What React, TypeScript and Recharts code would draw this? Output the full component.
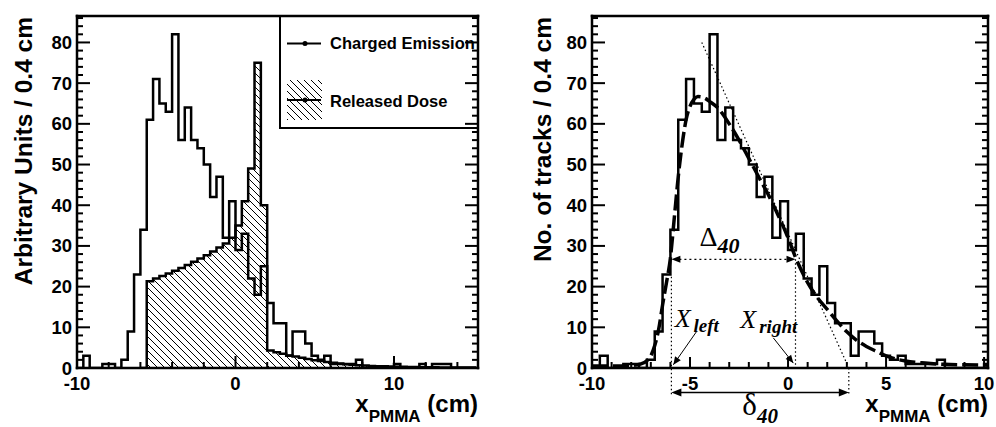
import React from 'react';
import { ComposedChart, Line, Area, XAxis, YAxis, ReferenceLine } from 'recharts';

const BIN_LOW = -10;
const BIN_WIDTH = 0.4;

// entries per 0.4 cm bin, first bin starts at x = -10
const chargedCounts = [
  0, 3, 0, 0, 1, 1, 0, 2, 9, 23, // -10.0 .. -6.4
  34, 61, 71, 65, 63, 82, 56, 64, 56, 54, // -6.0 .. -2.4
  50, 42, 47, 32, 41, 29, 33, 22, 18, 25, // -2.0 .. 1.6
  16, 11, 11, 3, 9, 9, 6, 3, 2, 3, // 2.0 .. 5.6
  1, 1, 1, 1, 2, 0, 0, 0, 0, 0, // 6.0 .. 9.6
  1, 0, 0, 0, 1, 0, 1, 1, 1, 0, // 10.0 .. 13.6
  0, 0, 0, // 14.0 .. 14.8
];

// released dose, first bin starts at x = -5.6
const DOSE_LOW = -5.6;
const doseValues = [
  21.3, 22.0, 22.6, 23.2, 23.9, 24.6, 25.3, 26.1, 26.9, 27.7, // -5.6 .. -2.0
  28.6, 29.6, 30.6, 32.0, 35.0, 41.0, 49.0, 75.0, 40.0, // -1.6 .. 1.6
  4.3, 3.9, 3.5, 3.1, 2.8, 2.5, 2.2, 1.9, 1.7, 1.5, // 2.0 .. 5.6
  1.3, 1.1, 0.95, 0.8, 0.7, 0.6, 0.5, 0.45, 0.4, 0.35, // 6.0 .. 9.6
  0.3, 0.3, 0.25, 0.25, 0.2, 0.2, 0.2, 0.15, 0.15, 0.15, // 10.0 .. 13.6
  0.1, 0.1, 0.1, // 14.0 .. 14.8
];

// fitted curve
const fitX = [-10, -9, -8, -7.5, -7.2, -7.0, -6.8, -6.6, -6.4, -6.2, -6.0, -5.8, -5.6, -5.4, -5.2, -5.0,
  -4.8, -4.6, -4.4, -4.2, -4.0, -3.6, -3.0, -2.5, -2.0, -1.5, -1.0, -0.5, 0, 0.4, 1.0, 1.5, 2.0,
  2.5, 3.0, 3.5, 4.0, 4.5, 5.0, 5.5, 6.0, 7.0, 8.0, 9.0, 10.2];
const fitY = [0.5, 0.5, 0.6, 1.0, 1.8, 3.0, 5.5, 9.5, 15.5, 21, 27, 37, 47, 55, 61, 64.3,
  66, 66.7, 66.6, 66.2, 65.5, 64, 60, 56, 51.5, 47, 42.5, 37.5, 32, 27, 21, 17.3, 14.4,
  11.5, 8.9, 6.8, 5.3, 4.1, 3.0, 2.2, 1.7, 1.2, 0.9, 0.8, 0.7];

// annotation values (cm / tracks)
const X_LEFT = -5.95;
const X_RIGHT = 0.38;
const X_ZERO = 3.1;
const LEVEL_40 = 26.7;
const TANGENT_TOP = { x: -4.4, y: 80 };
const DELTA_LEVEL = -6;

const leftXTicks = [-10, -8, -6, -4, -2, 0, 2, 4, 6, 8, 10, 12, 14];
const leftXLabels = [-10, 0, 10];
const rightXTicks = [-10, -9, -8, -7, -6, -5, -4, -3, -2, -1, 0, 1, 2, 3, 4, 5, 6, 7, 8, 9, 10];
const rightXLabels = [-10, -5, 0, 5, 10];
const yTicks = [0, 2, 4, 6, 8, 10, 12, 14, 16, 18, 20, 22, 24, 26, 28, 30, 32, 34, 36, 38, 40, 42,
  44, 46, 48, 50, 52, 54, 56, 58, 60, 62, 64, 66, 68, 70, 72, 74, 76, 78, 80, 82, 84, 86];
const yLabels = [0, 10, 20, 30, 40, 50, 60, 70, 80];

const SANS = '"Liberation Sans", Arial, Helvetica, sans-serif';
const SERIF = '"Liberation Serif", "Times New Roman", serif';
const AXIS = { stroke: '#000', strokeWidth: 2.5, strokeLinecap: 'square' as const };

const histPoints = (low: number, values: number[]) => [
  ...values.map((v, i) => ({ x: +(low + i * BIN_WIDTH).toFixed(2), v })),
  { x: +(low + values.length * BIN_WIDTH).toFixed(2), v: values[values.length - 1] },
];

const chargedPoints = histPoints(BIN_LOW, chargedCounts);
const dosePoints = [{ x: +(DOSE_LOW - BIN_WIDTH).toFixed(2), v: 0 }, ...histPoints(DOSE_LOW, doseValues)];
const fitPoints = fitX.map((x, i) => ({ x, v: fitY[i] }));

const has = (arr: number[], v: number) => arr.some((a) => Math.abs(a - v) < 1e-6);

function tickFor(side: 'bottom' | 'top' | 'left' | 'right', major: number[], labels: number[], majorLen = 12) {
  return (props: any) => {
    const { x, y, payload } = props;
    const v = payload.value;
    const len = has(major, v) ? majorLen : 6;
    let line;
    if (side === 'bottom') line = <line x1={x} y1={y} x2={x} y2={y - len} />;
    else if (side === 'top') line = <line x1={x} y1={y} x2={x} y2={y + len} />;
    else if (side === 'left') line = <line x1={x} y1={y} x2={x + len} y2={y} />;
    else line = <line x1={x} y1={y} x2={x - len} y2={y} />;
    let label = null;
    if (has(labels, v) && side === 'bottom') {
      label = <text x={x} y={y + 22} textAnchor="middle" fontSize={18.5} fontWeight="bold" fontFamily={SANS} fill="#000">{String(v)}</text>;
    } else if (has(labels, v) && side === 'left') {
      label = <text x={x - 5} y={y + 6.5} textAnchor="end" fontSize={18.5} fontWeight="bold" fontFamily={SANS} fill="#000">{String(v)}</text>;
    }
    return (
      <g>
        <g stroke="#000" strokeWidth={2}>{line}</g>
        {label}
      </g>
    );
  };
}

function head(tx: number, ty: number, fx: number, fy: number, len = 9, half = 3.5) {
  const dx = tx - fx;
  const dy = ty - fy;
  const d = Math.hypot(dx, dy) || 1;
  const ux = dx / d;
  const uy = dy / d;
  const bx = tx - ux * len;
  const by = ty - uy * len;
  return `${tx},${ty} ${bx - uy * half},${by + ux * half} ${bx + uy * half},${by - ux * half}`;
}

const dottedShape = (p: any) => (
  <line x1={p.x1} y1={p.y1} x2={p.x2} y2={p.y2} stroke="#000" strokeWidth={1.2} strokeDasharray="1.5 2.5" />
);

const bigDeltaShape = (p: any) => (
  <g>
    <line x1={p.x1 + 8} y1={p.y1} x2={p.x2 - 8} y2={p.y2} stroke="#000" strokeWidth={1.2} strokeDasharray="2 3" />
    <polygon points={head(p.x1, p.y1, p.x2, p.y2)} fill="#000" />
    <polygon points={head(p.x2, p.y2, p.x1, p.y1)} fill="#000" />
    <text x={p.x1 + 28} y={p.y1 - 13} fontFamily={SERIF} fontSize={28} fill="#000">
      Δ<tspan dy={7} fontSize={22} fontStyle="italic" fontWeight="bold">40</tspan>
    </text>
  </g>
);

const smallDeltaShape = (p: any) => (
  <g>
    <line x1={p.x1 + 8} y1={p.y1} x2={p.x2 - 8} y2={p.y2} stroke="#000" strokeWidth={1.5} />
    <polygon points={head(p.x1, p.y1, p.x2, p.y2, 10, 4)} fill="#000" />
    <polygon points={head(p.x2, p.y2, p.x1, p.y1, 10, 4)} fill="#000" />
    <text x={(p.x1 + p.x2) / 2} y={p.y1 + 23} textAnchor="middle" fontFamily={SERIF} fontSize={31} fill="#000">
      δ<tspan dy={8} fontSize={21} fontStyle="italic" fontWeight="bold">40</tspan>
    </text>
  </g>
);

const pointerShape = (sub: string, dx: number, dy: number) => (p: any) => (
  <g>
    <line x1={p.x1} y1={p.y1} x2={p.x2} y2={p.y2} stroke="#000" strokeWidth={1} />
    <polygon points={head(p.x2, p.y2, p.x1, p.y1, 8, 3.5)} fill="#000" />
    <text x={p.x1 + dx} y={p.y1 + dy} fontFamily={SERIF} fontStyle="italic" fontSize={26} fill="#000">
      X<tspan dx={3} dy={5} fontSize={19} fontWeight="bold">{sub}</tspan>
    </text>
  </g>
);

function xTitle(x: number) {
  return (
    <text x={x} y={412} textAnchor="end" fontFamily={SANS} fontWeight="bold" fontSize={24} fill="#000">
      x<tspan dy={10} fontSize={17}>PMMA</tspan>
      <tspan dy={-10}> (cm)</tspan>
    </text>
  );
}

function yTitle(x: number, label: string) {
  return (
    <text transform={`translate(${x},17) rotate(-90)`} textAnchor="end" fontFamily={SANS} fontWeight="bold" fontSize={24.5} fill="#000">
      {label}
    </text>
  );
}

// frame axes: 1px-thick axes so the plot box sits exactly on the margins
function frameAxes(domain: [number, number], xTicks: number[], xLabels: number[], xMajorLen: number) {
  return [
    <XAxis key="b" xAxisId={0} dataKey="x" type="number" domain={domain} allowDataOverflow ticks={xTicks}
      interval={0} height={1} tickSize={0} tickMargin={0} tickLine={false} axisLine={AXIS}
      tick={tickFor('bottom', xLabels, xLabels, xMajorLen)} />,
    <XAxis key="t" xAxisId="top" orientation="top" type="number" domain={domain} allowDataOverflow ticks={xTicks}
      interval={0} height={1} tickSize={0} tickMargin={0} tickLine={false} axisLine={AXIS}
      tick={tickFor('top', xLabels, [], xMajorLen)} />,
    <YAxis key="l" yAxisId={0} type="number" domain={[0, 86.5]} allowDataOverflow ticks={yTicks}
      interval={0} width={1} tickSize={0} tickMargin={0} tickLine={false} axisLine={AXIS}
      tick={tickFor('left', yLabels, yLabels, 13)} />,
    <YAxis key="r" yAxisId="right" orientation="right" type="number" domain={[0, 86.5]} allowDataOverflow ticks={yTicks}
      interval={0} width={1} tickSize={0} tickMargin={0} tickLine={false} axisLine={AXIS}
      tick={tickFor('right', yLabels, [], 13)} />,
  ];
}

export default function App() {
  return (
    <div style={{ position: 'absolute', left: 0, top: 0, width: 996, height: 427, background: '#fff' }}>
      <div style={{ position: 'absolute', left: 0, top: 0 }}>
        <ComposedChart width={500} height={427} margin={{ top: 15, right: 21, bottom: 58, left: 76 }}>
          <defs>
            <pattern id="hatch" width={7} height={7} patternUnits="userSpaceOnUse">
              <path d="M0,0 L7,7 M-1,6 L1,8 M6,-1 L8,1" stroke="#000" strokeWidth={1} />
            </pattern>
          </defs>
          {frameAxes([-10, 15.3], leftXTicks, leftXLabels, 12)}
          <Area data={dosePoints} dataKey="v" type="stepAfter" stroke="#000" strokeWidth={2.5}
            fill="url(#hatch)" fillOpacity={1} dot={false} activeDot={false} isAnimationActive={false} />
          <Line data={chargedPoints} dataKey="v" type="stepAfter" stroke="#000" strokeWidth={2.5}
            dot={false} activeDot={false} isAnimationActive={false} />
          <g>
            <rect x={280} y={16} width={198} height={112} fill="#fff" stroke="#000" strokeWidth={2} />
            <line x1={287} y1={43.5} x2={321} y2={43.5} stroke="#000" strokeWidth={2} />
            <circle cx={305} cy={43.5} r={2.5} fill="#000" />
            <text x={330} y={48.5} fontFamily={SANS} fontWeight="bold" fontSize={16.5} fill="#000">Charged Emission</text>
            <rect x={287} y={80} width={35} height={40} fill="url(#hatch)" />
            <line x1={287} y1={100} x2={321} y2={100} stroke="#000" strokeWidth={2} />
            <circle cx={305} cy={100} r={2.5} fill="#000" />
            <text x={330} y={106.5} fontFamily={SANS} fontWeight="bold" fontSize={16.5} fill="#000">Released Dose</text>
          </g>
          {yTitle(32, 'Arbitrary Units / 0.4 cm')}
          {xTitle(478)}
        </ComposedChart>
      </div>
      <div style={{ position: 'absolute', left: 500, top: 0 }}>
        <ComposedChart width={496} height={427} margin={{ top: 15, right: 7, bottom: 58, left: 91 }}>
          {frameAxes([-10, 10.2], rightXTicks, rightXLabels, 11)}
          <Line data={chargedPoints} dataKey="v" type="stepAfter" stroke="#000" strokeWidth={2.5}
            dot={false} activeDot={false} isAnimationActive={false} />
          <Line data={fitPoints} dataKey="v" type="monotone" stroke="#000" strokeWidth={3.5}
            strokeDasharray="16 5" dot={false} activeDot={false} isAnimationActive={false} />
          <ReferenceLine ifOverflow="visible" segment={[TANGENT_TOP, { x: X_ZERO, y: 0 }]} shape={dottedShape} />
          <ReferenceLine ifOverflow="visible" segment={[{ x: X_LEFT, y: 22.4 }, { x: X_LEFT, y: -6.6 }]} shape={dottedShape} />
          <ReferenceLine ifOverflow="visible" segment={[{ x: X_RIGHT, y: LEVEL_40 }, { x: X_RIGHT, y: 0 }]} shape={dottedShape} />
          <ReferenceLine ifOverflow="visible" segment={[{ x: X_ZERO, y: 0 }, { x: X_ZERO, y: -6.6 }]} shape={dottedShape} />
          <ReferenceLine ifOverflow="visible" segment={[{ x: X_LEFT, y: LEVEL_40 }, { x: X_RIGHT, y: LEVEL_40 }]} shape={bigDeltaShape} />
          <ReferenceLine ifOverflow="visible" segment={[{ x: X_LEFT, y: DELTA_LEVEL }, { x: X_ZERO, y: DELTA_LEVEL }]} shape={smallDeltaShape} />
          <ReferenceLine ifOverflow="visible" segment={[{ x: -4.66, y: 9.0 }, { x: -5.85, y: 0.8 }]} shape={pointerShape('left', -22, -4)} />
          <ReferenceLine ifOverflow="visible" segment={[{ x: -0.75, y: 7.4 }, { x: 0.27, y: 1.2 }]} shape={pointerShape('right', -33, -10)} />
          {yTitle(51, 'No. of tracks / 0.4 cm')}
          {xTitle(488)}
        </ComposedChart>
      </div>
    </div>
  );
}
